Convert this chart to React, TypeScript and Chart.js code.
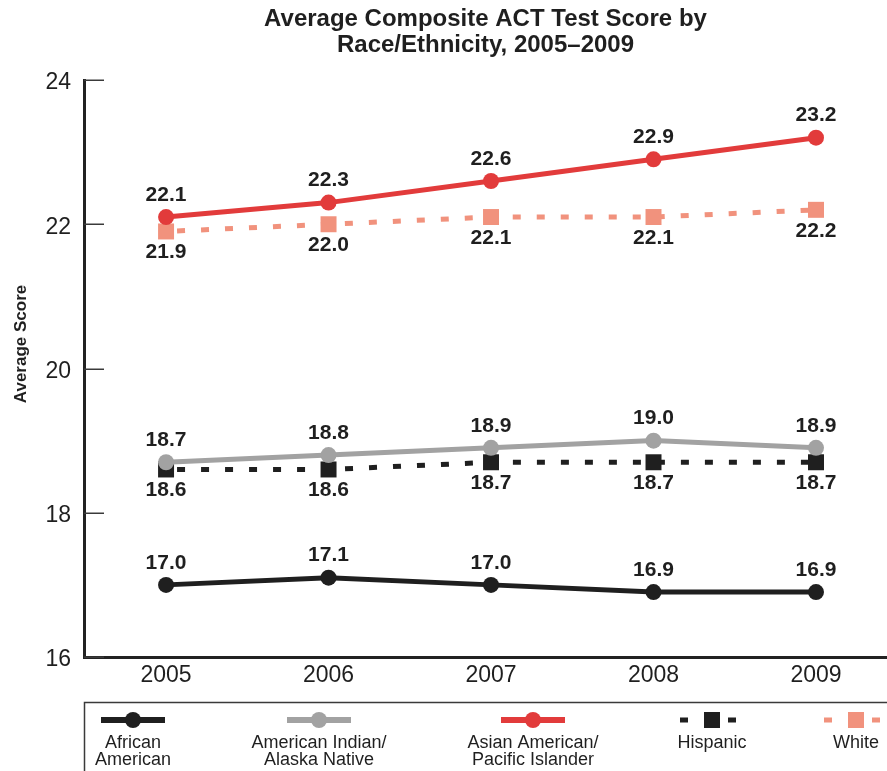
import React, { useEffect, useRef } from 'react';
import { Chart, registerables } from 'chart.js';

Chart.register(...registerables);

// ---- data ----
const years = [2005, 2006, 2007, 2008, 2009];
const africanAmerican = [17.0, 17.1, 17.0, 16.9, 16.9];
const americanIndian = [18.7, 18.8, 18.9, 19.0, 18.9];
const asianAmerican = [22.1, 22.3, 22.6, 22.9, 23.2];
const hispanic = [18.6, 18.6, 18.7, 18.7, 18.7];
const white = [21.9, 22.0, 22.1, 22.1, 22.2];
const yTickValues = [16, 18, 20, 22, 24];
const seriesNames = [
  ['African', 'American'],
  ['American Indian/', 'Alaska Native'],
  ['Asian American/', 'Pacific Islander'],
  ['Hispanic'],
  ['White'],
];
const titleLines = ['Average Composite ACT Test Score by', 'Race/Ethnicity, 2005–2009'];
const yAxisTitle = 'Average Score';

const FONT = "'Liberation Sans', Arial, Helvetica, sans-serif";
const TEXT = '#1f1f1f';

const BLACK = '#1f1f1f';
const GRAY = '#a2a2a2';
const RED = '#e23b3b';
const SALMON = '#f1927d';

type Series = {
  names: string[];
  values: number[];
  color: string;
  dashed: boolean;
  labelPos: 'above' | 'below';
  legendX: number;
};

const series: Series[] = [
  { names: seriesNames[0], values: africanAmerican, color: BLACK, dashed: false, labelPos: 'above', legendX: 133 },
  { names: seriesNames[1], values: americanIndian, color: GRAY, dashed: false, labelPos: 'above', legendX: 319 },
  { names: seriesNames[2], values: asianAmerican, color: RED, dashed: false, labelPos: 'above', legendX: 533 },
  { names: seriesNames[3], values: hispanic, color: BLACK, dashed: true, labelPos: 'below', legendX: 712 },
  { names: seriesNames[4], values: white, color: SALMON, dashed: true, labelPos: 'below', legendX: 856 },
];

const overlayPlugin = {
  id: 'overlay',
  beforeDatasetsDraw(chart: any) {
    const ctx = chart.ctx;
    const y = chart.scales.y;
    ctx.save();
    ctx.strokeStyle = '#3a3a3a';
    ctx.lineWidth = 1.5;
    y.ticks.forEach((t: any) => {
      const py = Math.round(y.getPixelForValue(t.value)) + 0.25;
      ctx.beginPath();
      ctx.moveTo(y.right, py);
      ctx.lineTo(y.right + 20, py);
      ctx.stroke();
    });
    ctx.restore();
  },
  afterDatasetsDraw(chart: any) {
    const ctx = chart.ctx;
    ctx.save();
    ctx.font = `bold 21px ${FONT}`;
    ctx.fillStyle = TEXT;
    ctx.textAlign = 'center';
    ctx.textBaseline = 'middle';
    series.forEach((s, i) => {
      const meta = chart.getDatasetMeta(i);
      meta.data.forEach((el: any, j: number) => {
        const off = s.labelPos === 'above' ? -22 : 21;
        ctx.fillText(s.values[j].toFixed(1), el.x, el.y + off);
      });
    });
    ctx.restore();
  },
  afterDraw(chart: any) {
    const ctx = chart.ctx;
    ctx.save();
    // y axis title
    ctx.font = `bold 17px ${FONT}`;
    ctx.fillStyle = TEXT;
    ctx.textAlign = 'center';
    ctx.textBaseline = 'middle';
    ctx.translate(21, 344);
    ctx.rotate(-Math.PI / 2);
    ctx.fillText(yAxisTitle, 0, 0);
    ctx.restore();

    // legend box
    ctx.save();
    ctx.strokeStyle = '#3a3a3a';
    ctx.lineWidth = 1.5;
    ctx.beginPath();
    ctx.rect(84.5, 702.5, 900, 200);
    ctx.stroke();

    const iy = 720;
    series.forEach((s) => {
      const cx = s.legendX;
      ctx.fillStyle = s.color;
      if (!s.dashed) {
        ctx.strokeStyle = s.color;
        ctx.lineWidth = 6;
        ctx.beginPath();
        ctx.moveTo(cx - 32, iy);
        ctx.lineTo(cx + 32, iy);
        ctx.stroke();
        ctx.beginPath();
        ctx.arc(cx, iy, 8, 0, Math.PI * 2);
        ctx.fill();
      } else {
        ctx.fillRect(cx - 32, iy - 2.5, 8, 5);
        ctx.fillRect(cx + 16, iy - 2.5, 8, 5);
        ctx.fillRect(cx - 8, iy - 8, 16, 16);
      }
      ctx.fillStyle = TEXT;
      ctx.font = `18px ${FONT}`;
      ctx.textAlign = 'center';
      ctx.textBaseline = 'alphabetic';
      s.names.forEach((line, k) => {
        ctx.fillText(line, cx, 748 + k * 17);
      });
    });
    ctx.restore();
  },
};

export default function App() {
  const ref = useRef<HTMLCanvasElement | null>(null);

  useEffect(() => {
    document.body.style.margin = '0';
    document.body.style.overflow = 'hidden';
    const canvas = ref.current;
    if (!canvas) return;

    const datasets = series.map((s) => ({
      label: s.names.join(' '),
      data: years.map((yr, i) => ({ x: yr, y: s.values[i] })),
      borderColor: s.color,
      backgroundColor: s.color,
      borderWidth: 5,
      borderDash: s.dashed ? [8, 16] : [],
      borderDashOffset: s.dashed ? 13 : 0,
      pointStyle: s.dashed ? 'rect' : 'circle',
      pointRadius: s.dashed ? 11.3 : 8,
      pointBorderWidth: 0,
      pointBackgroundColor: s.color,
      tension: 0,
      fill: false,
      clip: false,
    }));

    const chart = new Chart(canvas, {
      type: 'line',
      data: { datasets },
      options: {
        animation: false,
        responsive: false,
        devicePixelRatio: 1,
        layout: { autoPadding: false, padding: { left: 0, right: 0, top: 0, bottom: 69 } },
        plugins: {
          legend: { display: false },
          tooltip: { enabled: false },
          title: {
            display: true,
            text: titleLines,
            fullSize: false,
            color: TEXT,
            font: { family: FONT, size: 24, weight: 'bold', lineHeight: 1.1 },
            padding: { top: 6, bottom: 21.2 },
          },
        },
        scales: {
          x: {
            type: 'linear',
            min: 2004.495,
            max: 2009.437,
            grid: { display: false, drawTicks: false },
            border: { display: true, color: '#222', width: 3 },
            afterBuildTicks: (scale: any) => {
              scale.ticks = years.map((v) => ({ value: v }));
            },
            afterFit: (scale: any) => {
              scale.height = 45;
              scale.paddingLeft = 0;
              scale.paddingRight = 0;
            },
            ticks: {
              color: TEXT,
              font: { family: FONT, size: 23 },
              padding: 5,
              maxRotation: 0,
              autoSkip: false,
              callback: (v: any) => String(v),
            },
          },
          y: {
            type: 'linear',
            min: 16,
            max: 24,
            grid: { display: false, drawTicks: false },
            border: { display: true, color: '#222', width: 3 },
            afterBuildTicks: (scale: any) => {
              scale.ticks = yTickValues.map((v) => ({ value: v }));
            },
            afterFit: (scale: any) => {
              scale.width = 84;
              scale.paddingTop = 0;
              scale.paddingBottom = 0;
            },
            ticks: {
              color: TEXT,
              font: { family: FONT, size: 23 },
              padding: 13,
              labelOffset: 3,
              callback: (v: any) => String(v),
            },
          },
        },
      },
      plugins: [overlayPlugin],
    });

    return () => chart.destroy();
  }, []);

  return (
    <div style={{ width: 887, height: 771 }}>
      <canvas ref={ref} width={887} height={771} style={{ display: 'block' }} />
    </div>
  );
}
